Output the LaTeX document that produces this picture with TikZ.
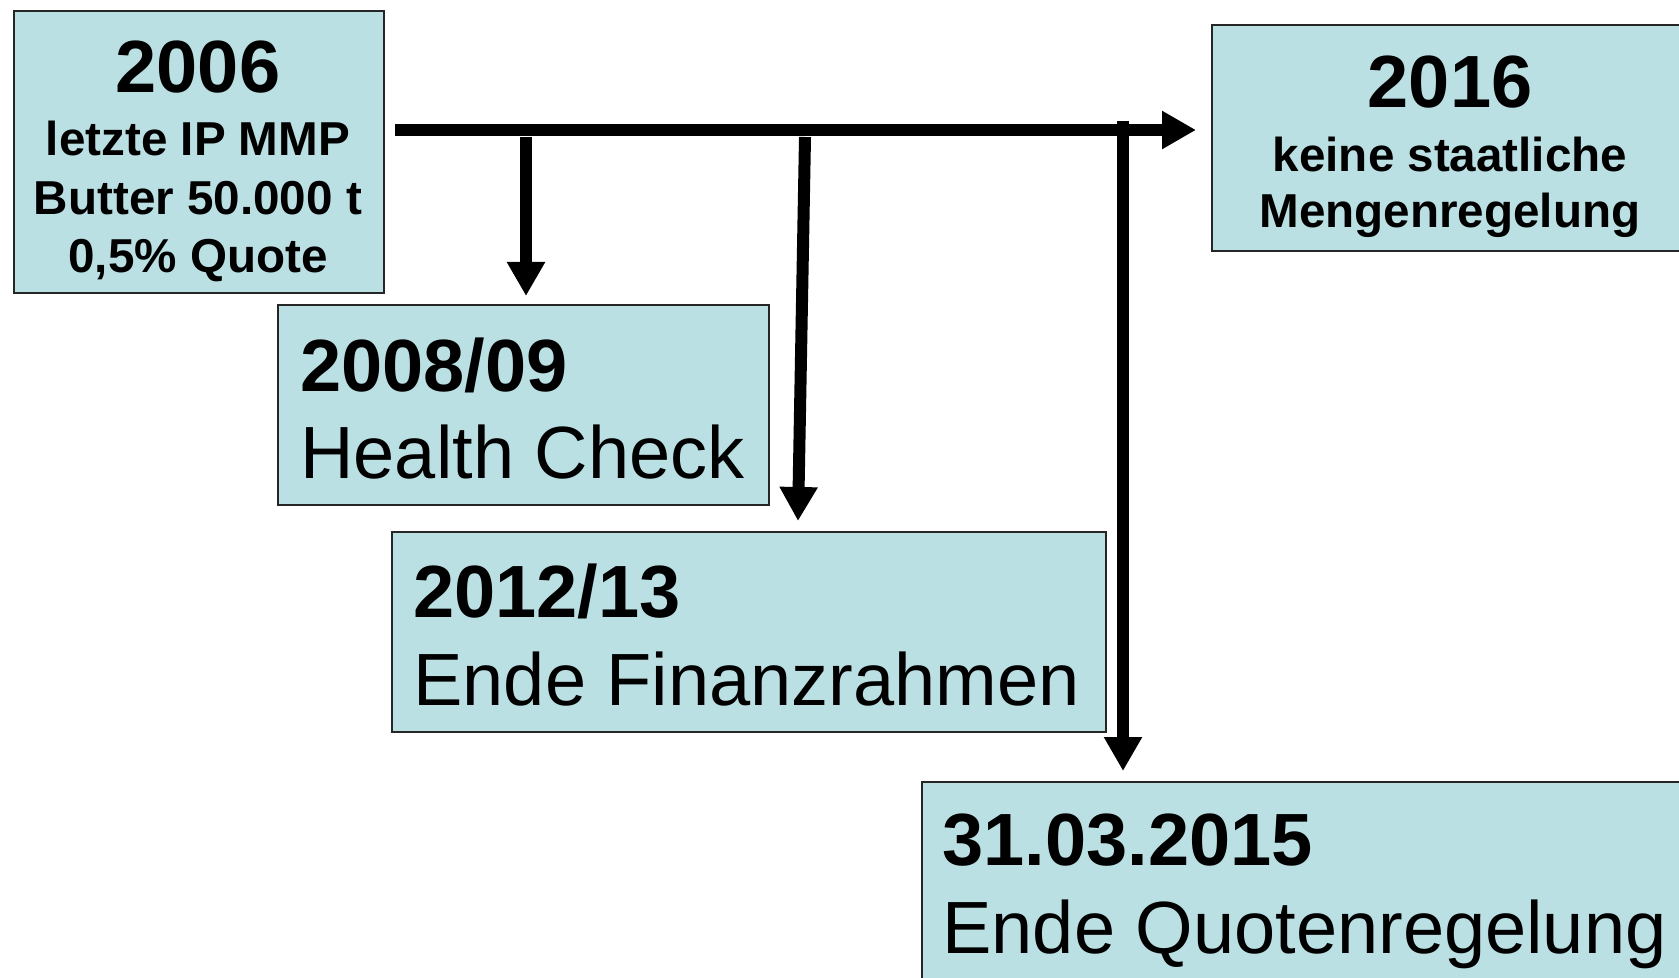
\documentclass[tikz,border=0pt]{standalone}
\usepackage{fontspec}
\setmainfont{Liberation Sans}
\usetikzlibrary{arrows.meta,calc}
\definecolor{boxfill}{RGB}{187,224,227}
\begin{document}
\begin{tikzpicture}[x=0.5pt,y=-0.5pt,
  box/.style={draw=black!85,line width=1pt,fill=boxfill,rectangle,anchor=north west,inner sep=0pt},
  big/.style={font=\fontsize{37}{40}\selectfont,inner sep=0pt},
  bigb/.style={font=\fontsize{37}{40}\selectfont\bfseries,inner sep=0pt},
  small/.style={font=\fontsize{23.8}{28}\selectfont\bfseries,inner sep=0pt,anchor=base},
  arr/.style={line width=6pt,-{Triangle[width=18pt,length=17pt]}},
]
\useasboundingbox (0,0) rectangle (1679,978);
\begin{scope}
\clip (0,0) rectangle (1679,978);
% boxes
\node[box,minimum width=185pt,minimum height=141pt] (b2006) at (13,10) {};
\node[box,minimum width=245.5pt,minimum height=100pt] (b2008) at (277,304) {};
\node[box,minimum width=357pt,minimum height=100pt] (b2012) at (391,531) {};
\node[box,minimum width=240pt,minimum height=113pt] (b2016) at (1211,24) {};
\node[box,minimum width=385pt,minimum height=105pt] (b2015) at (921,781) {};
% texts
\node[bigb,anchor=base] (t2006) at (198,93) {2006};
\node[small] (t2006a) at (198,156) {letzte IP MMP};
\node[small] (t2006b) at (198,215) {Butter 50.000 t};
\node[small] (t2006c) at (198,273) {0,5\% Quote};
\node[bigb,anchor=base] (t2016) at (1450,108) {2016};
\node[small] (t2016a) at (1450,172) {keine staatliche};
\node[small] (t2016b) at (1450,228) {Mengenregelung};
\node[bigb,anchor=base west] (t2008) at (300,391) {2008/09};
\node[big,anchor=base west] (t2008a) at (300,478) {Health Check};
\node[bigb,anchor=base west] (t2012) at (413,617) {2012/13};
\node[big,anchor=base west] (t2012a) at (413,705) {Ende Finanzrahmen};
\node[bigb,anchor=base west] (t2015) at (942,865) {31.03.2015};
\node[big,anchor=base west] (t2015a) at (942,953) {Ende Quotenregelung};
\end{scope}
% connectors
\coordinate (tl) at (395,130);
\coordinate (a1) at (526,137);
\coordinate (a2) at (805,137);
\coordinate (a2e) at (798,521);
\coordinate (a3) at (1123,121);
\draw[arr,shorten >=7.5pt] (tl) -- (tl -| b2016.west);
\draw[arr,shorten >=4pt] (a1) -- (a1 |- b2008.north);
\draw[arr] (a2) -- (a2e);
\draw[arr,shorten >=5pt] (a3) -- (a3 |- b2015.north);
\end{tikzpicture}
\end{document}
